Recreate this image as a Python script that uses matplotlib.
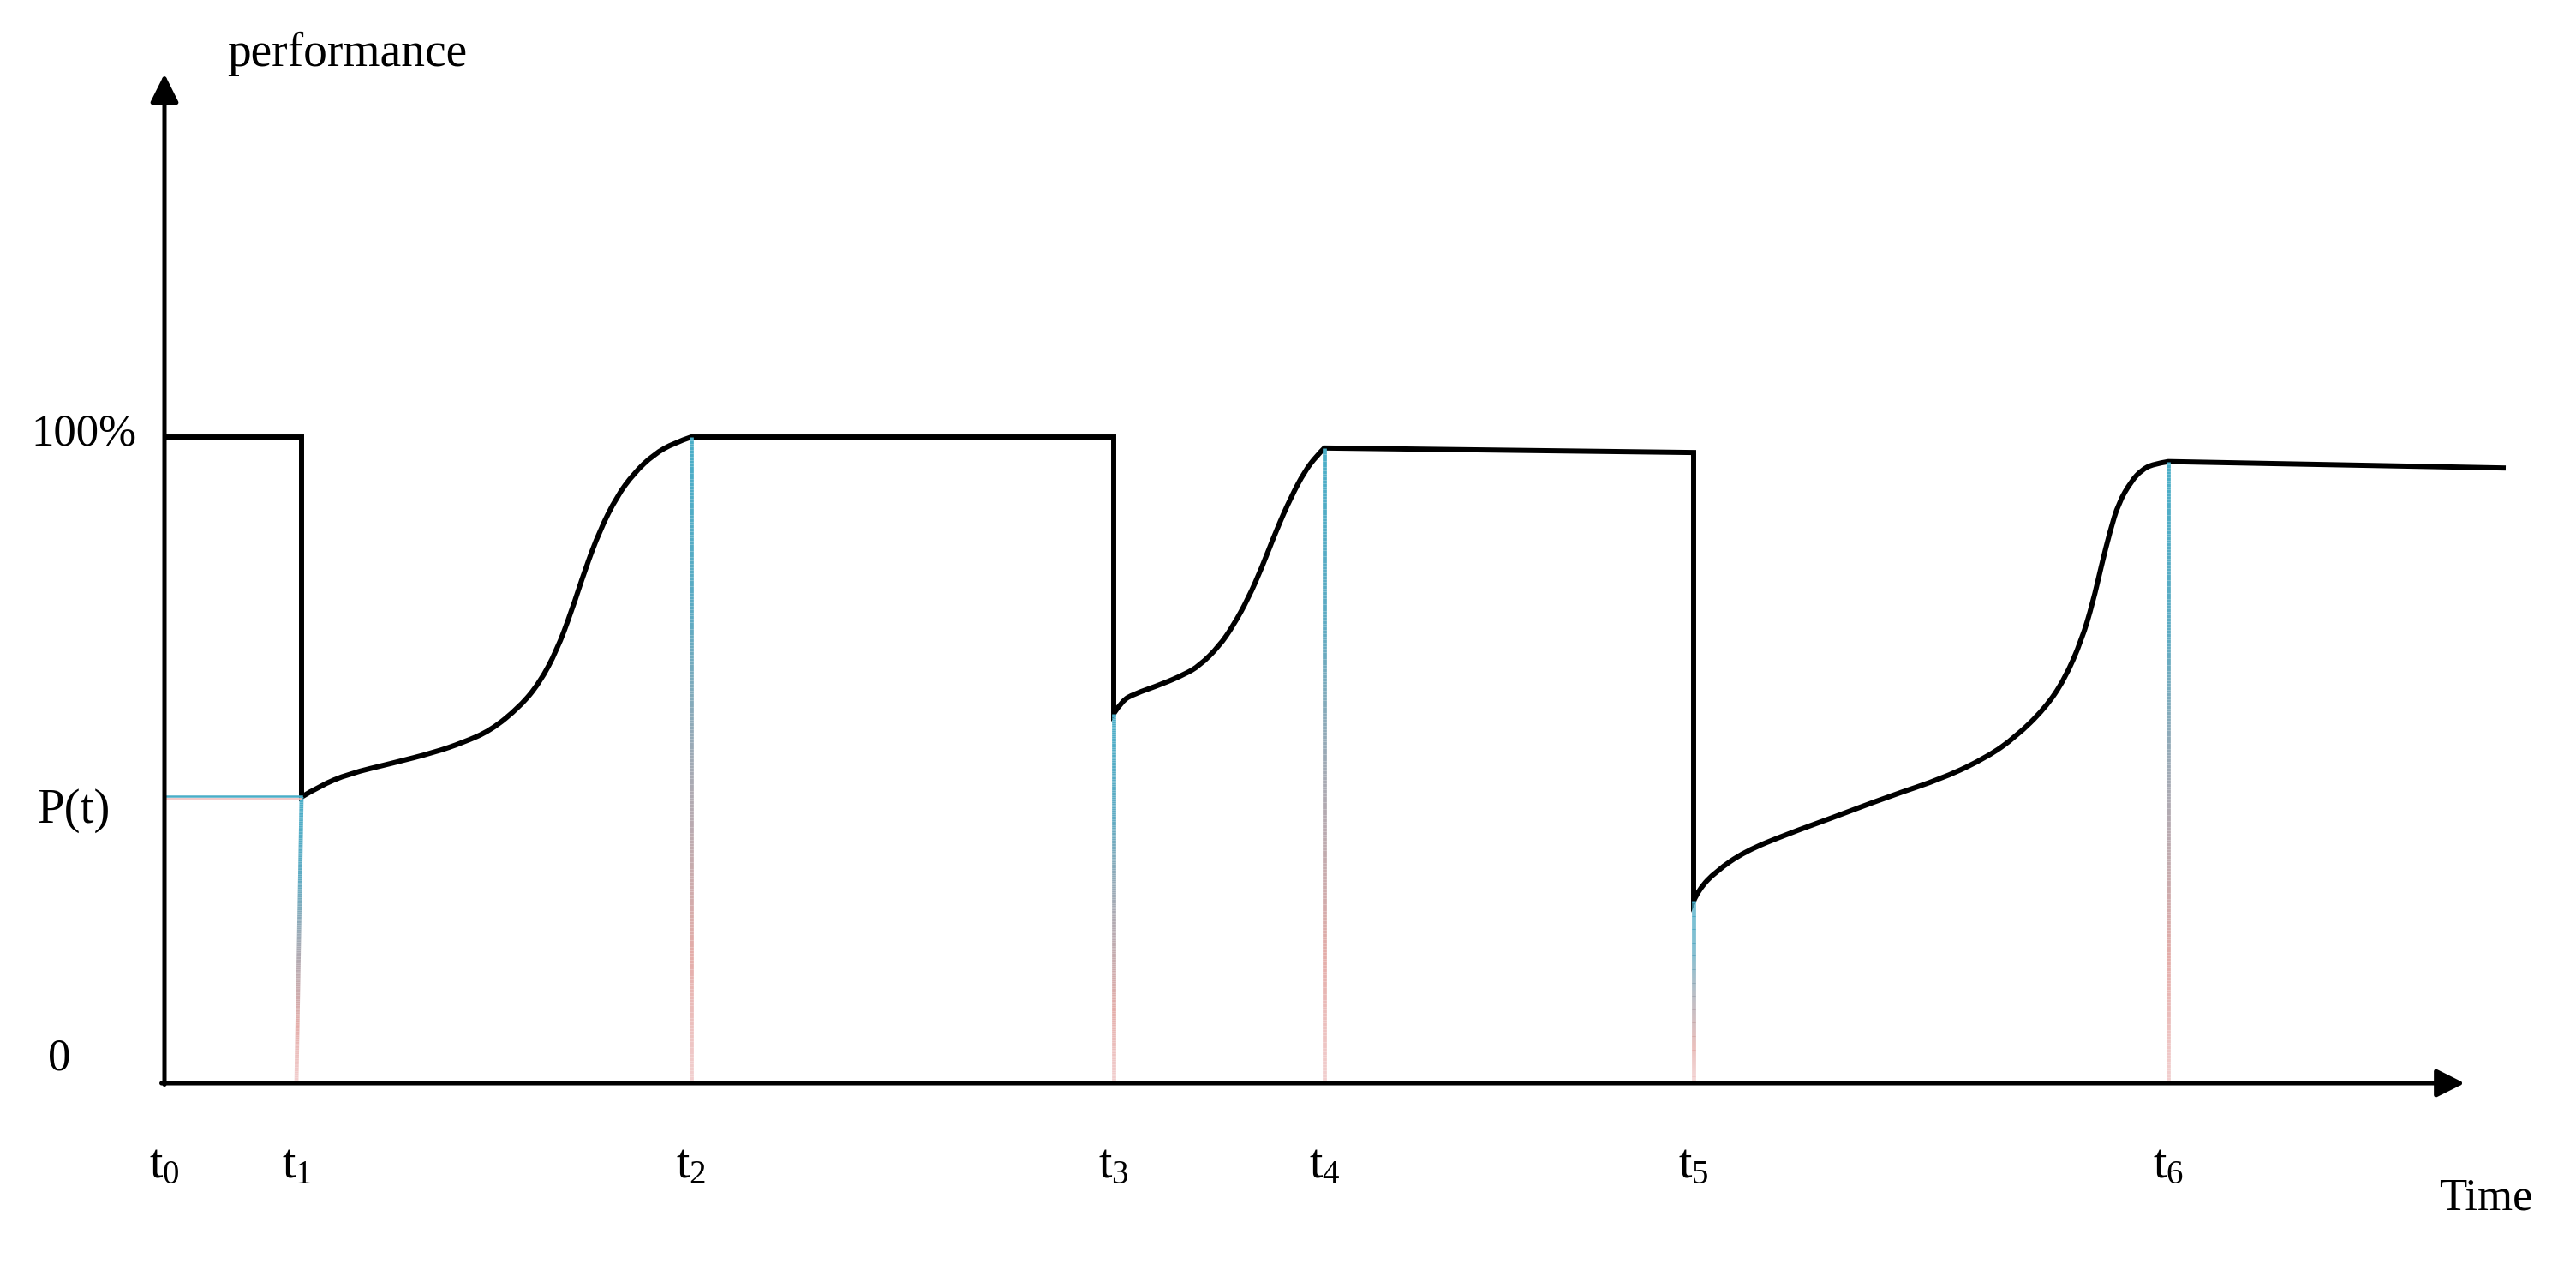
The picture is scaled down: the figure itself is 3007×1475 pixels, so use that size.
import matplotlib
matplotlib.use("Agg")
import matplotlib.pyplot as plt
import numpy as np
from matplotlib.collections import LineCollection
from matplotlib.colors import LinearSegmentedColormap
from matplotlib.path import Path
from matplotlib.patches import PathPatch

plt.rcParams['font.family'] = ['Liberation Serif', 'DejaVu Serif']
plt.rcParams['mathtext.fontset'] = 'custom'
plt.rcParams['mathtext.rm'] = 'Liberation Serif'
plt.rcParams['mathtext.it'] = 'Liberation Serif'

# event times (arbitrary time units) and levels (% of performance)
t_marks = [0.0, 16.0, 61.5, 110.8, 135.4, 178.5, 233.9]
t_labels = [r'$\mathrm{t}_{%d}$' % i for i in range(7)]
p_drop = 44.3          # P(t) after the first drop

# recovery curves
rec1_t = [16.0, 18.1, 21.5, 26.5, 31.5, 34.8, 38.1, 41.5, 43.8, 45.8, 47.5,
          49.1, 50.8, 52.8, 54.8, 57.1, 59.5, 61.5]
rec1_p = [44.3, 46.0, 47.9, 49.5, 51.2, 52.7, 54.6, 58.3, 62.0, 67.0, 73.0,
          79.5, 85.5, 90.8, 94.4, 97.3, 99.1, 100.0]
rec2_t = [110.8, 111.8, 113.1, 116.5, 119.1, 120.8, 123.1, 124.8, 126.5,
          128.1, 129.8, 131.5, 133.1, 134.5, 135.4]
rec2_p = [57.2, 59.2, 60.2, 61.8, 63.3, 64.6, 67.6, 70.9, 75.0, 79.8, 85.6,
          90.7, 94.7, 97.1, 98.3]
rec3_t = [178.5, 179.1, 181.1, 184.5, 189.5, 194.5, 201.1, 207.8, 212.8,
          216.1, 219.5, 221.8, 223.8, 225.1, 226.1, 227.1, 228.1, 229.6,
          230.8, 232.1, 233.9]
rec3_p = [28.2, 30.0, 32.8, 35.9, 38.6, 41.0, 44.3, 47.3, 50.5, 53.6, 58.0,
          62.5, 68.6, 74.4, 80.1, 85.4, 89.8, 93.2, 94.9, 95.8, 96.2]
level_t5 = 97.6        # plateau just before t5
end_t, end_p = 273.3, 95.2

# gradient markers: (bottom t, top t, top level)
grad_lines = [(15.4, 16.0, 44.3), (61.5, 61.5, 100.0), (110.8, 110.8, 57.2),
              (135.4, 135.4, 98.3), (178.5, 178.5, 28.2), (233.9, 233.9, 96.2)]


def smooth_part(verts, codes, ts, ps):
    # quadratic bezier through midpoints of the read points
    pts = list(zip(ts, ps))
    for i in range(1, len(pts) - 1):
        mid = ((pts[i][0] + pts[i + 1][0]) / 2, (pts[i][1] + pts[i + 1][1]) / 2)
        if i == len(pts) - 2:
            mid = pts[i + 1]
        verts += [pts[i], mid]
        codes += [Path.CURVE3, Path.CURVE3]


fig = plt.figure(figsize=(30.07, 14.75), dpi=100)
ax = fig.add_axes([0, 0, 1, 1])
ax.set_xlim(-19.2, 281.5)
ax.set_ylim(-27.98, 167.64)
ax.axis('off')

# performance curve
verts = [(0.0, 100.0), (t_marks[1], 100.0), (rec1_t[0], rec1_p[0])]
codes = [Path.MOVETO, Path.LINETO, Path.LINETO]
smooth_part(verts, codes, rec1_t, rec1_p)
verts += [(t_marks[3], 100.0), (rec2_t[0], rec2_p[0])]
codes += [Path.LINETO, Path.LINETO]
smooth_part(verts, codes, rec2_t, rec2_p)
verts += [(t_marks[5], level_t5), (rec3_t[0], rec3_p[0])]
codes += [Path.LINETO, Path.LINETO]
smooth_part(verts, codes, rec3_t, rec3_p)
verts += [(end_t, end_p)]
codes += [Path.LINETO]
ax.add_patch(PathPatch(Path(verts, codes), fill=False, edgecolor='black',
                       lw=4.3, joinstyle='miter', capstyle='butt', zorder=3))

# gradient vertical lines
cmap = LinearSegmentedColormap.from_list(
    'grad', [(0.0, '#f2cfcf'), (0.2, '#e4aca8'), (0.45, '#aeaab2'),
             (0.72, '#5eabc3'), (1.0, '#4aaec8')])
for tb, tt, top in grad_lines:
    f = np.linspace(0, 1, 200)
    px = tb + (tt - tb) * f
    py = top * f
    segs = np.stack([np.column_stack([px[:-1], py[:-1]]),
                     np.column_stack([px[1:], py[1:]])], axis=1)
    lc = LineCollection(segs, colors=cmap(f[:-1]), linewidths=3.4,
                        capstyle='butt', zorder=4)
    ax.add_collection(lc)

# P(t) reference line
ax.plot([0, t_marks[1]], [p_drop + 0.12, p_drop + 0.12], color='#4aaec8', lw=1.8, zorder=4)
ax.plot([0, t_marks[1]], [p_drop - 0.25, p_drop - 0.25], color='#f0c0c0', lw=1.2, zorder=4)

# axes with arrows
arrow = dict(arrowstyle='-|>', color='black', lw=3.6, mutation_scale=50,
             shrinkA=0, shrinkB=0)
ax.annotate('', xy=(0, 156.2), xytext=(0, -0.2), arrowprops=arrow, zorder=5)
ax.annotate('', xy=(268.5, 0), xytext=(-0.35, 0), arrowprops=arrow, zorder=5)

fs = 38
ax.text(7.3, 159.3, 'performance', fontsize=40, ha='left', va='center')
ax.text(-3.3, 100.5, '100%', fontsize=fs, ha='right', va='center')
ax.text(-10.6, 42.2, 'P(t)', fontsize=41, ha='center', va='center')
ax.text(-12.3, 3.8, '0', fontsize=fs, ha='center', va='center')
label_x = [0.0, 15.4, 61.5, 110.8, 135.4, 178.5, 233.9]
for lx, lab in zip(label_x, t_labels):
    ax.text(lx, -12.8, lab, fontsize=40, ha='center', va='center')
ax.text(271.0, -17.8, 'Time', fontsize=fs, ha='center', va='center')

fig.savefig('out.png', dpi=100)
